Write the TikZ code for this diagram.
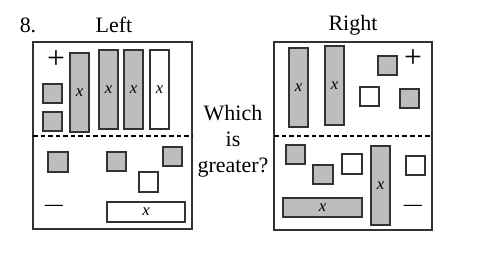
\documentclass[tikz,border=0pt]{standalone}
\usepackage{fontspec}
\setmainfont{Liberation Serif}
\usetikzlibrary{calc}

\tikzset{
  postile/.style = {draw=black!80, line width=0.6pt, fill=black!26},
  negtile/.style = {draw=black!80, line width=0.6pt, fill=white},
  matframe/.style = {draw=black!80, line width=0.7pt},
  divide/.style = {draw=black, line width=0.7pt, dash pattern=on 2.6pt off 1.7pt},
  var/.style = {font=\fontsize{9.5}{10}\selectfont\itshape, inner sep=0pt},
  sign/.style = {font=\fontsize{18}{18}\selectfont, inner sep=0pt},
  caption/.style = {font=\fontsize{12.5}{14.7}\selectfont}
}

\begin{document}
\begin{tikzpicture}[x=0.02cm, y=-0.02cm]
        \useasboundingbox (0,0) rectangle (500,258);
        % titles
        \node[caption] (num) at (28,25) {8.};
        \node[caption] (lefttitle) at (114,25) {Left};
        \node[caption] (righttitle) at (353,25) {Right};
        \node[caption, align=center] (ask) at (233,141) {Which\\is\\greater?};
        % left mat
        \draw[matframe] (33,42) rectangle (192,229);
        \draw[divide] (33,136) to (192,136);
        \node[sign] (lplus) at (56,60) {+};
        \node[sign] (lminus) at (54,206) {$-$};
        \draw[postile] (43,84) rectangle (62,103);
        \draw[postile] (43,112) rectangle (62,131);
        \draw[postile] (70,53) rectangle (89,132) node[var, midway] (lx1) {x};
        \foreach \i/\x in {2/99,3/124}
        {
        \draw[postile] (\x,50) rectangle (\x+19,129) node[var, midway] (lx\i) {x};
        }
        \draw[negtile] (150,50) rectangle (169,129) node[var, midway] (lx4) {x};
        \draw[postile] (48,152) rectangle (68,172);
        \draw[postile] (107,152) rectangle (126,171);
        \draw[postile] (163,147) rectangle (182,166);
        \draw[negtile] (139,172) rectangle (158,192);
        \draw[negtile] (107,202) rectangle (185,222) node[var, midway] (lx5) {x};
        % right mat
        \draw[matframe] (274,42) rectangle (432,230);
        \draw[divide] (274,136) to (432,136);
        \node[sign] (rplus) at (413,59) {+};
        \node[sign] (rminus) at (413,206) {$-$};
        \draw[postile] (289,48) rectangle (308,127) node[var, midway] (rx1) {x};
        \draw[postile] (325,46) rectangle (344,125) node[var, midway] (rx2) {x};
        \draw[postile] (378,56) rectangle (397,75);
        \draw[negtile] (360,87) rectangle (379,106);
        \draw[postile] (400,89) rectangle (419,108);
        \draw[postile] (286,145) rectangle (305,164);
        \draw[postile] (313,165) rectangle (333,184);
        \draw[negtile] (342,154) rectangle (362,174);
        \draw[negtile] (406,156) rectangle (425,175);
        \draw[postile] (371,146) rectangle (390,225) node[var, midway] (rx3) {x};
        \draw[postile] (283,198) rectangle (362,217) node[var, midway] (rx4) {x};
    \end{tikzpicture}
\end{document}
